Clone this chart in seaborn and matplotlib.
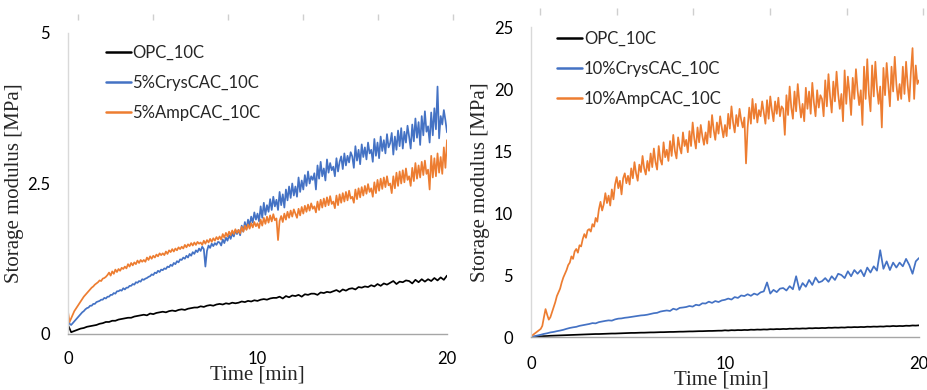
import numpy as np
import pandas as pd
import matplotlib
matplotlib.use("Agg")
import matplotlib.pyplot as plt
import seaborn as sns

# ---------------- data ----------------
# sampling grids: 6 and 12 readings per minute
time_6 = np.arange(121) / 6.0
time_12 = np.arange(241) / 12.0

left_opc = [
    0.15, 0.03, 0.05, 0.07, 0.09, 0.10,
    0.12, 0.13, 0.14, 0.15, 0.17, 0.18,
    0.20, 0.20, 0.22, 0.22, 0.24, 0.25,
    0.26, 0.27, 0.27, 0.29, 0.30, 0.31,
    0.32, 0.31, 0.34, 0.33, 0.35, 0.36,
    0.37, 0.36, 0.38, 0.39, 0.38, 0.40,
    0.41, 0.40, 0.42, 0.43, 0.44, 0.44,
    0.46, 0.45, 0.47, 0.48, 0.47, 0.49,
    0.50, 0.49, 0.51, 0.50, 0.52, 0.51,
    0.52, 0.54, 0.53, 0.55, 0.54, 0.56,
    0.55, 0.57, 0.58, 0.57, 0.59, 0.60,
    0.60, 0.62, 0.59, 0.63, 0.61, 0.64,
    0.63, 0.65, 0.62, 0.66, 0.65, 0.67,
    0.67, 0.65, 0.69, 0.68, 0.70, 0.69,
    0.71, 0.73, 0.70, 0.74, 0.72, 0.75,
    0.76, 0.74, 0.78, 0.77, 0.79, 0.78,
    0.81, 0.79, 0.83, 0.80, 0.84, 0.82,
    0.85, 0.88, 0.83, 0.87, 0.86, 0.89,
    0.88, 0.84, 0.90, 0.86, 0.91, 0.87,
    0.91, 0.88, 0.93, 0.89, 0.94, 0.90,
    0.97,
]

left_crys = [
    0.26, 0.17, 0.15, 0.18, 0.21, 0.24, 0.27, 0.30, 0.33, 0.36, 0.38, 0.41,
    0.43, 0.44, 0.47, 0.47, 0.50, 0.50, 0.53, 0.54, 0.55, 0.57, 0.57, 0.60,
    0.59, 0.62, 0.62, 0.65, 0.65, 0.68, 0.67, 0.71, 0.71, 0.73, 0.72, 0.76,
    0.74, 0.77, 0.77, 0.80, 0.80, 0.83, 0.82, 0.86, 0.85, 0.88, 0.87, 0.91,
    0.90, 0.92, 0.93, 0.95, 0.96, 0.99, 0.98, 1.02, 1.01, 1.05, 1.03, 1.07,
    1.06, 1.09, 1.08, 1.12, 1.11, 1.15, 1.13, 1.18, 1.16, 1.21, 1.19, 1.24,
    1.23, 1.27, 1.25, 1.30, 1.27, 1.33, 1.30, 1.36, 1.33, 1.39, 1.36, 1.42,
    1.38, 1.45, 1.41, 1.12, 1.38, 1.47, 1.43, 1.50, 1.46, 1.51, 1.48, 1.53,
    1.52, 1.47, 1.57, 1.51, 1.60, 1.55, 1.64, 1.58, 1.67, 1.62, 1.72, 1.66,
    1.73, 1.64, 1.80, 1.70, 1.86, 1.74, 1.90, 1.80, 1.95, 1.85, 2.02, 1.90,
    2.00, 1.87, 2.12, 1.93, 2.18, 1.98, 2.14, 2.03, 2.24, 2.06, 2.28, 2.12,
    2.23, 2.06, 2.36, 2.14, 2.32, 2.10, 2.40, 2.22, 2.45, 2.26, 2.50, 2.30,
    2.45, 2.28, 2.60, 2.36, 2.55, 2.40, 2.64, 2.46, 2.70, 2.50, 2.62, 2.56,
    2.67, 2.40, 2.80, 2.58, 2.86, 2.62, 2.75, 2.55, 2.90, 2.68, 2.84, 2.72,
    2.78, 2.62, 2.92, 2.70, 2.86, 2.95, 2.74, 3.00, 2.80, 2.96, 2.85, 3.02,
    2.95, 2.76, 3.12, 2.88, 3.06, 2.82, 3.15, 2.94, 3.10, 2.90, 3.18, 3.00,
    3.06, 2.86, 3.24, 2.96, 3.18, 2.92, 3.28, 3.04, 3.22, 3.00, 3.32, 3.10,
    3.17, 3.34, 2.98, 3.28, 3.06, 3.38, 3.12, 3.42, 3.08, 3.36, 3.18, 3.46,
    3.28, 3.08, 3.48, 3.20, 3.58, 3.26, 3.52, 3.14, 3.62, 3.30, 3.70, 3.36,
    3.45, 3.18, 3.68, 3.30, 3.75, 3.40, 4.11, 3.25, 3.62, 3.48, 3.72, 3.55,
    3.35,
]

left_amp = [
    0.37, 0.20, 0.26, 0.32, 0.38, 0.42, 0.46, 0.50, 0.54, 0.58, 0.62, 0.65,
    0.68, 0.71, 0.74, 0.77, 0.79, 0.82, 0.84, 0.86, 0.89, 0.88, 0.92, 0.93,
    0.95, 0.98, 1.02, 0.97, 1.04, 1.00, 1.07, 1.03, 1.08, 1.05, 1.10, 1.08,
    1.12, 1.09, 1.16, 1.12, 1.18, 1.14, 1.19, 1.16, 1.22, 1.18, 1.23, 1.20,
    1.23, 1.20, 1.27, 1.23, 1.29, 1.25, 1.30, 1.27, 1.32, 1.29, 1.34, 1.31,
    1.34, 1.31, 1.37, 1.33, 1.39, 1.36, 1.41, 1.37, 1.42, 1.39, 1.44, 1.41,
    1.45, 1.42, 1.48, 1.44, 1.49, 1.46, 1.51, 1.47, 1.52, 1.48, 1.53, 1.50,
    1.52, 1.48, 1.55, 1.50, 1.56, 1.52, 1.58, 1.53, 1.59, 1.55, 1.61, 1.57,
    1.62, 1.57, 1.66, 1.60, 1.68, 1.62, 1.70, 1.64, 1.72, 1.66, 1.74, 1.68,
    1.73, 1.67, 1.78, 1.70, 1.80, 1.73, 1.82, 1.75, 1.84, 1.77, 1.86, 1.79,
    1.84, 1.76, 1.90, 1.80, 1.93, 1.83, 1.95, 1.85, 1.97, 1.87, 1.99, 1.89,
    1.92, 1.56, 1.88, 1.96, 1.86, 2.00, 1.90, 2.03, 1.93, 2.05, 1.95, 2.07,
    2.00, 1.93, 2.08, 1.97, 2.11, 2.00, 2.13, 2.03, 2.15, 2.05, 2.17, 2.08,
    2.12, 2.02, 2.20, 2.06, 2.23, 2.10, 2.25, 2.12, 2.27, 2.14, 2.29, 2.16,
    2.20, 2.09, 2.30, 2.14, 2.32, 2.18, 2.34, 2.20, 2.36, 2.22, 2.38, 2.25,
    2.28, 2.18, 2.40, 2.24, 2.42, 2.27, 2.44, 2.30, 2.46, 2.33, 2.49, 2.36,
    2.42, 2.28, 2.52, 2.34, 2.56, 2.38, 2.58, 2.41, 2.60, 2.44, 2.62, 2.47,
    2.50, 2.34, 2.62, 2.42, 2.68, 2.46, 2.70, 2.50, 2.72, 2.52, 2.75, 2.56,
    2.62, 2.46, 2.76, 2.54, 2.84, 2.58, 2.80, 2.60, 2.86, 2.64, 2.88, 2.66,
    2.73, 2.40, 2.96, 2.60, 2.92, 2.62, 3.00, 2.68, 2.94, 2.66, 3.10, 2.76,
    3.22,
]

right_opc = [
    0.00, 0.02, 0.04, 0.05, 0.07, 0.08,
    0.10, 0.11, 0.12, 0.13, 0.14, 0.15,
    0.16, 0.17, 0.18, 0.19, 0.20, 0.21,
    0.22, 0.23, 0.24, 0.24, 0.25, 0.26,
    0.27, 0.28, 0.28, 0.29, 0.30, 0.31,
    0.32, 0.33, 0.33, 0.34, 0.35, 0.35,
    0.36, 0.37, 0.37, 0.38, 0.39, 0.39,
    0.40, 0.41, 0.41, 0.42, 0.43, 0.43,
    0.44, 0.45, 0.45, 0.46, 0.47, 0.47,
    0.48, 0.49, 0.49, 0.50, 0.51, 0.51,
    0.54, 0.52, 0.55, 0.54, 0.56, 0.55,
    0.57, 0.56, 0.59, 0.58, 0.60, 0.59,
    0.61, 0.60, 0.63, 0.62, 0.64, 0.63,
    0.65, 0.64, 0.67, 0.66, 0.68, 0.67,
    0.69, 0.68, 0.71, 0.70, 0.72, 0.71,
    0.73, 0.72, 0.75, 0.74, 0.76, 0.75,
    0.77, 0.76, 0.79, 0.78, 0.80, 0.79,
    0.81, 0.80, 0.83, 0.82, 0.84, 0.83,
    0.85, 0.84, 0.87, 0.86, 0.89, 0.87,
    0.89, 0.88, 0.91, 0.90, 0.93, 0.92,
    0.94,
]

right_crys = [
    0.00, 0.06, 0.12, 0.18, 0.25, 0.30,
    0.37, 0.41, 0.47, 0.52, 0.58, 0.66,
    0.73, 0.78, 0.82, 0.90, 0.95, 1.00,
    1.05, 1.12, 1.10, 1.20, 1.25, 1.30,
    1.34, 1.32, 1.42, 1.48, 1.50, 1.55,
    1.58, 1.62, 1.66, 1.70, 1.74, 1.76,
    1.80, 1.86, 1.92, 1.95, 2.05, 2.10,
    2.14, 2.10, 2.28, 2.20, 2.35, 2.38,
    2.42, 2.50, 2.45, 2.60, 2.55, 2.72,
    2.70, 2.85, 2.75, 2.90, 2.82, 2.95,
    3.00, 3.10, 3.02, 3.22, 3.15, 3.35,
    3.30, 3.45, 3.32, 3.50, 3.40, 3.60,
    3.68, 4.40, 3.50, 3.80, 3.62, 3.90,
    3.95, 3.75, 4.10, 3.85, 4.90, 3.80,
    4.35, 4.05, 4.60, 4.20, 4.80, 4.40,
    4.50, 4.75, 4.45, 4.90, 4.60, 5.10,
    5.00, 4.75, 5.30, 4.90, 5.40, 5.10,
    5.40, 4.90, 5.60, 5.20, 5.70, 5.35,
    7.00, 5.50, 6.10, 5.40, 6.00, 5.60,
    6.00, 5.70, 6.30, 5.80, 5.10, 6.10,
    6.37,
]

right_amp = [
    0.05, 0.15, 0.25, 0.35, 0.45, 0.55, 0.65, 0.90, 1.60, 2.25, 1.80, 1.40,
    1.60, 2.00, 2.40, 2.80, 3.30, 3.60, 3.90, 4.40, 4.80, 5.10, 5.40, 5.80,
    6.00, 6.50, 6.30, 6.90, 7.10, 6.80, 7.40, 7.30, 7.90, 8.30, 8.00, 8.60,
    8.70, 8.50, 9.10, 8.90, 9.60, 9.30, 10.30, 10.90, 10.20, 10.70, 11.60, 10.80,
    11.40, 10.60, 11.90, 11.10, 12.30, 12.90, 12.00, 12.60, 11.50, 12.80, 13.20, 12.40,
    13.00, 12.30, 13.60, 12.80, 14.10, 13.20, 12.60, 13.90, 13.30, 14.60, 13.60, 13.10,
    14.20, 13.40, 14.80, 13.70, 15.20, 14.10, 13.50, 15.40, 14.30, 13.90, 15.70, 14.50,
    15.10, 14.20, 15.80, 14.60, 16.30, 15.00, 14.40, 16.10, 15.30, 14.80, 16.50, 15.40,
    15.90, 14.90, 16.60, 15.40, 17.30, 16.00, 15.20, 16.90, 15.70, 17.10, 16.20, 15.50,
    16.50, 15.60, 17.40, 16.10, 17.90, 16.70, 15.90, 17.30, 16.40, 17.80, 16.90, 16.10,
    17.10, 16.20, 18.00, 16.80, 18.60, 17.30, 16.50, 17.90, 17.00, 18.40, 17.50, 16.90,
    17.70, 14.00, 16.90, 18.50, 17.20, 19.20, 17.60, 18.80, 17.30, 18.30, 17.80, 19.00,
    18.10, 17.20, 19.10, 17.60, 19.40, 18.30, 17.40, 19.00, 18.00, 19.30, 17.80, 18.60,
    18.40, 16.30, 19.50, 17.90, 20.20, 18.50, 17.60, 19.80, 18.20, 20.40, 18.90, 17.70,
    18.80, 17.40, 20.10, 18.40, 19.80, 18.00, 20.50, 18.90, 17.80, 19.90, 18.50, 19.50,
    19.20, 17.80, 20.70, 18.60, 21.20, 19.40, 18.10, 20.60, 19.00, 21.40, 19.60, 18.40,
    19.60, 17.40, 21.50, 18.80, 21.00, 19.70, 17.90, 20.90, 19.20, 21.60, 19.90, 18.70,
    19.90, 17.10, 21.80, 19.20, 22.40, 19.60, 18.20, 21.90, 19.40, 22.20, 20.10, 18.80,
    20.20, 16.90, 21.70, 19.50, 22.10, 20.30, 18.60, 21.80, 19.80, 22.60, 20.40, 19.10,
    20.40, 19.20, 21.80, 19.60, 22.20, 20.30, 19.00, 21.40, 23.30, 19.20, 21.90, 20.40,
    20.70,
]

left_labels = ["OPC_10C", "5%CrysCAC_10C", "5%AmpCAC_10C"]
right_labels = ["OPC_10C", "10%CrysCAC_10C", "10%AmpCAC_10C"]
left_yticks = [0, 2.5, 5]
left_yticklabels = ["0", "2.5", "5"]
right_yticks = [0, 5, 10, 15, 20, 25]
xticks = [0, 10, 20]
colors = ["#000000", "#4472C4", "#ED7D31"]

# ---------------- styling ----------------
sns.set_style("white")
plt.rcParams["font.family"] = ["Lato", "DejaVu Sans"]

SERIF = ["Liberation Serif", "DejaVu Serif"]

fig = plt.figure(figsize=(9.28, 3.9), dpi=100)
W, H = 928.0, 390.0


def px_axes(x0, x1, ytop, ybot):
    return fig.add_axes([x0 / W, 1 - ybot / H, (x1 - x0) / W, (ybot - ytop) / H])


# faint marks along the top edge (remnant of the source page)
deco = fig.add_axes([0, 0, 1, 1], zorder=-5)
deco.set_xlim(0, W)
deco.set_ylim(H, 0)
deco.axis("off")
deco.vlines([78, 153, 228, 303, 378, 453], 14, 20, color="#cfcfcf", lw=1)
deco.vlines([540, 617, 693, 770, 847, 923], 8, 15, color="#cfcfcf", lw=1)

ax_l = px_axes(68, 447, 33, 334)
ax_r = px_axes(531, 919, 27, 337)


def long_frame(series, labels):
    frames = []
    for vals, lab in zip(series, labels):
        t = time_12 if len(vals) == len(time_12) else time_6
        frames.append(pd.DataFrame({"t": t, "G": vals, "series": lab}))
    return pd.concat(frames, ignore_index=True)


df_l = long_frame([left_opc, left_crys, left_amp], left_labels)
df_r = long_frame([right_opc, right_crys, right_amp], right_labels)

for ax, df, labels, yticks, ytl, ymax, leg_xy, xpad in [
    (ax_l, df_l, left_labels, left_yticks, left_yticklabels, 5, (0.100, 0.962), 12),
    (ax_r, df_r, right_labels, right_yticks, [str(v) for v in right_yticks], 25, (0.068, 0.988), 14),
]:
    sns.lineplot(data=df, x="t", y="G", hue="series", hue_order=labels,
                 palette=colors, linewidth=1.25, ax=ax, estimator=None,
                 sort=False, legend=True)
    ax.set_xlim(0, 20)
    ax.set_ylim(0, ymax)
    ax.set_xticks(xticks)
    ax.set_xticklabels([str(v) for v in xticks])
    ax.set_yticks(yticks)
    ax.set_yticklabels(ytl)
    ax.tick_params(axis="both", length=0, labelsize=12, colors="black")
    ax.tick_params(axis="x", pad=xpad)
    ax.tick_params(axis="y", pad=13)
    for s in ["top", "right"]:
        ax.spines[s].set_visible(False)
    ax.spines["left"].set_color("#d9d9d9")
    ax.spines["left"].set_linewidth(1.0)
    ax.spines["bottom"].set_color("#a6a6a6")
    ax.spines["bottom"].set_linewidth(1.0)
    ax.grid(False)
    ax.set_xlabel("Time [min]", fontsize=15, family=SERIF)
    ax.set_ylabel("Storage modulus [MPa]", fontsize=15, family=SERIF)

    handles, labs = ax.get_legend_handles_labels()
    for h in handles:
        h.set_linewidth(1.8)
    ax.legend(handles, labs, loc="upper left", bbox_to_anchor=leg_xy,
              frameon=False, fontsize=12, handlelength=1.5, handletextpad=0.1,
              labelspacing=0.85, borderaxespad=0, borderpad=0)

ax_l.xaxis.set_label_coords(0.5, -0.135)
ax_r.xaxis.set_label_coords(0.49, -0.14)
ax_l.yaxis.set_label_coords(-0.14, 0.5)
ax_r.yaxis.set_label_coords(-0.131, 0.5)
for ax in (ax_l, ax_r):
    ax.yaxis.label.set_va("center")
    ax.xaxis.label.set_va("center")

fig.savefig("out.png", dpi=100, facecolor="white")
